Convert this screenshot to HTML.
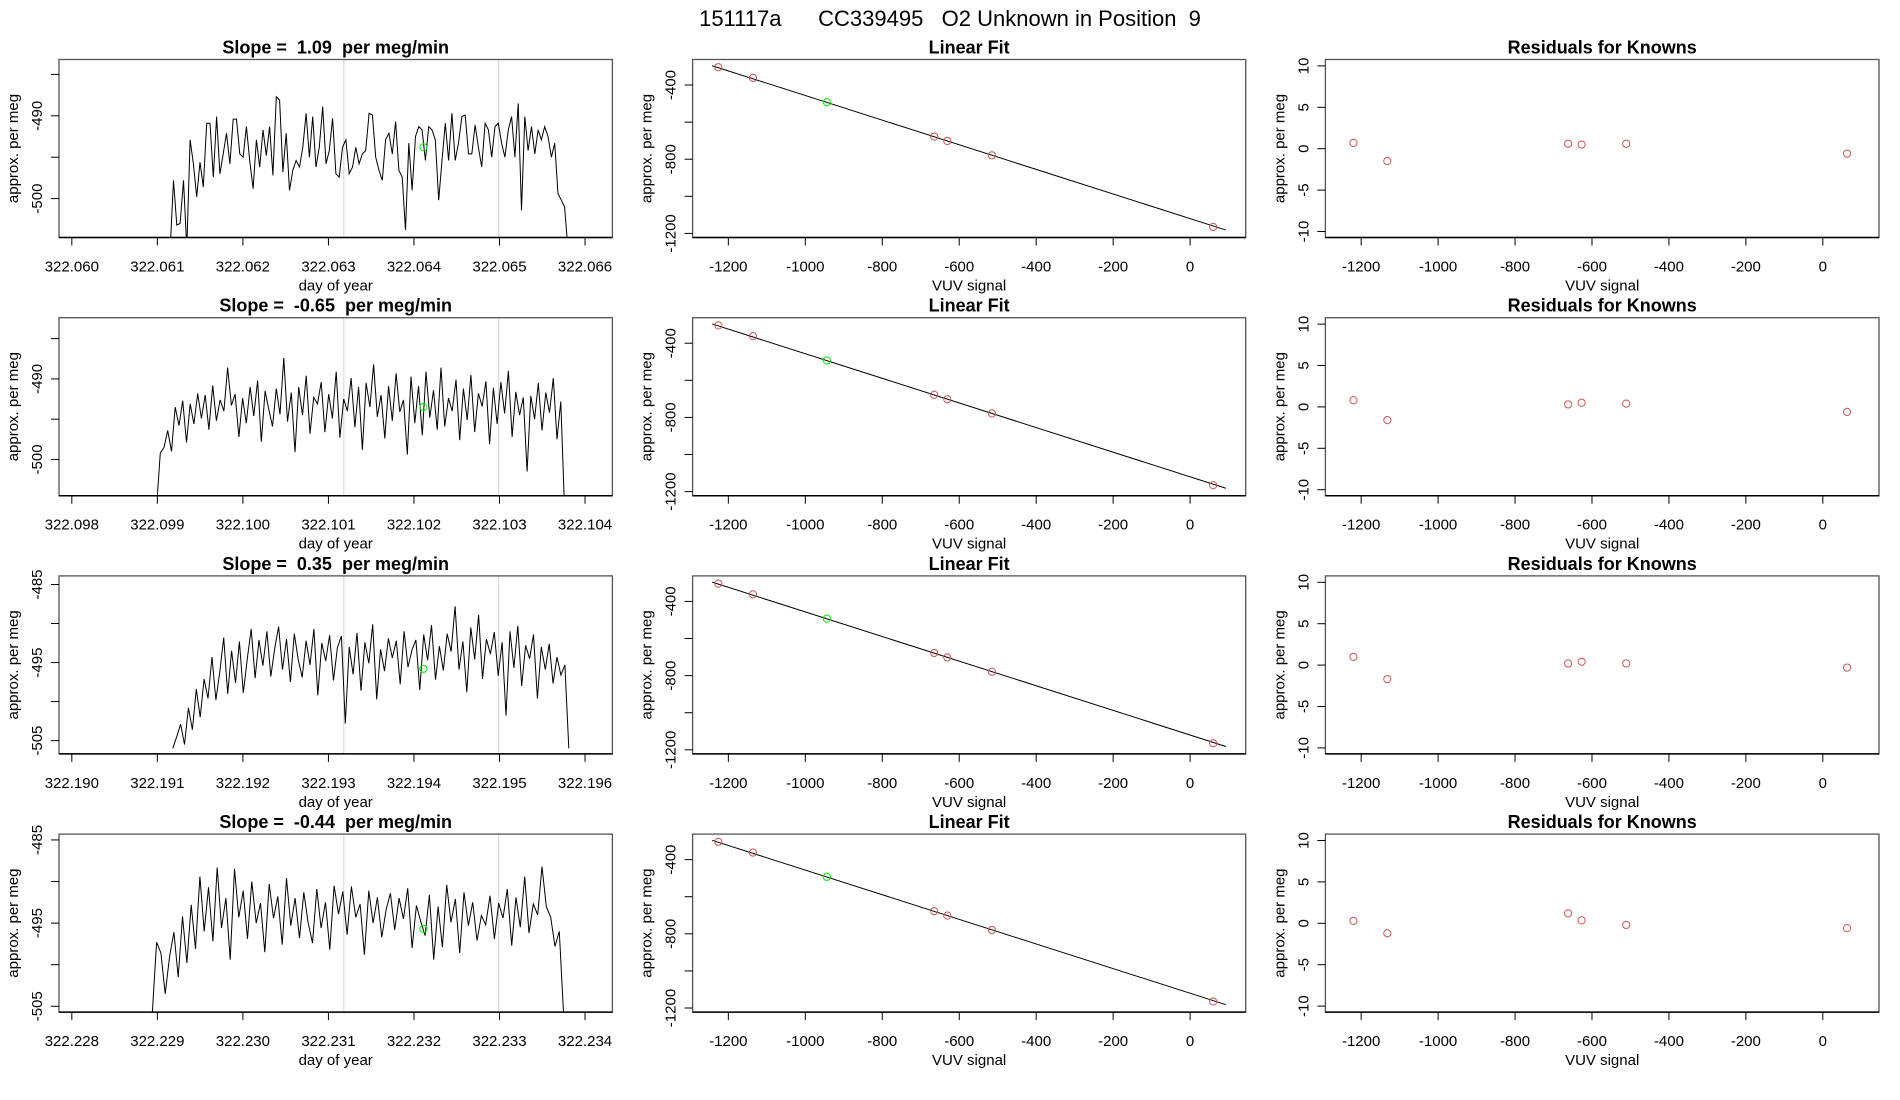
<!DOCTYPE html>
<html><head><meta charset="utf-8"><style>
html,body{margin:0;padding:0;background:#fff;}
svg{display:block;font-family:"Liberation Sans",sans-serif;}
svg text{white-space:pre;}
</style></head><body>
<svg id="chart" width="1900" height="1100">
<text x="950" y="26" text-anchor="middle" font-size="22" xml:space="preserve">151117a      CC339495   O2 Unknown in Position  9</text>
</svg>
<script>
// ---- data ----
const rowSlopes = ["1.09", "-0.65", "0.35", "-0.44"];
const tStarts = [322.06115, 322.09899, 322.19118, 322.22894];
const tEnds = [322.06580, 322.10376, 322.19581, 322.23375];
const xTickStarts = [322.060, 322.098, 322.190, 322.228];
const markerTimes = [[322.06318, 322.06499], [322.10118, 322.10299], [322.19318, 322.19499], [322.23118, 322.23299]];
const yLimTop = [-483.2, -482.4, -483.9, -484.3];
const yLimBottom = [-504.7, -504.5, -506.7, -505.7];
const yTickLabels = [[-490, -500], [-490, -500], [-485, -495, -505], [-485, -495, -505]];
const unknownTimes = [322.06411, 322.10211, 322.19411, 322.23211];
const unknownValues = [-493.8, -493.5, -495.8, -495.7];
const series1 = [-506,-497.8,-503.2,-503.0,-497.8,-506,-492.9,-495.8,-499.8,-495.6,-498.6,-490.9,-490.9,-497.4,-490.1,-497.0,-494.6,-492.1,-495.8,-490.4,-490.4,-494.6,-495.0,-491.3,-495.4,-498.8,-492.9,-496.2,-491.7,-494.8,-491.3,-497.2,-487.7,-488.1,-496.8,-492.1,-499.0,-496.6,-495.4,-496.2,-493.8,-489.7,-495.0,-490.1,-496.2,-493.8,-488.9,-495.8,-494.2,-490.3,-497.0,-497.4,-493.8,-492.9,-497.0,-496.2,-493.8,-495.8,-494.6,-494.2,-489.7,-489.9,-495.0,-496.6,-497.8,-492.9,-492.1,-494.6,-490.7,-496.6,-497.4,-503.8,-493.3,-499.0,-492.5,-491.3,-491.7,-495.4,-491.3,-491.7,-492.9,-500.2,-495.4,-490.9,-495.4,-489.7,-495.4,-493.3,-490.1,-489.9,-494.6,-494.6,-491.1,-493.8,-496.2,-490.9,-491.7,-495.0,-491.3,-490.9,-493.3,-495.0,-491.7,-490.1,-495.0,-488.5,-501.4,-490.1,-494.2,-491.3,-494.6,-491.7,-492.9,-491.3,-492.5,-495.0,-493.3,-499.4,-500.2,-501.0,-506];
const series2 = [-506,-499.2,-498.5,-496.4,-499.0,-493.5,-495.8,-492.7,-497.9,-493.1,-495.6,-491.8,-494.9,-492.0,-496.3,-490.8,-495.2,-492.6,-494.0,-488.6,-493.3,-491.9,-497.2,-492.4,-495.5,-491.0,-494.6,-490.2,-497.8,-491.5,-493.8,-495.9,-491.2,-494.4,-487.4,-495.3,-491.7,-499.1,-491.0,-494.5,-489.6,-496.8,-492.3,-493.1,-490.4,-496.6,-491.9,-494.9,-489.1,-497.3,-492.5,-494.0,-489.9,-496.0,-491.0,-498.8,-490.5,-493.5,-488.2,-494.7,-492.0,-497.4,-490.9,-495.2,-489.3,-494.1,-492.6,-499.4,-489.7,-495.5,-490.9,-497.0,-489.1,-494.8,-491.4,-496.3,-488.6,-495.9,-492.4,-494.0,-490.1,-497.6,-491.2,-495.1,-489.5,-496.6,-491.8,-493.4,-490.3,-498.1,-491.1,-495.6,-490.4,-494.3,-489.0,-497.2,-491.6,-494.5,-492.3,-501.5,-492.1,-495.0,-490.5,-496.4,-491.7,-494.2,-489.9,-497.5,-492.8,-506];
const series3 = [-506,-504.5,-502.9,-505.5,-500.8,-503.6,-498.4,-502.0,-497.1,-499.6,-494.3,-499.8,-496.2,-491.8,-499.0,-493.5,-497.6,-492.3,-498.9,-494.5,-490.7,-497.0,-492.1,-495.4,-491.0,-496.8,-493.2,-490.4,-495.9,-492.0,-497.5,-491.3,-494.6,-496.9,-492.2,-495.3,-490.7,-499.2,-492.5,-494.8,-491.5,-497.3,-493.1,-491.6,-502.8,-493.0,-496.5,-491.2,-498.6,-492.4,-495.1,-490.1,-499.7,-493.3,-496.1,-491.9,-494.4,-492.2,-497.8,-491.0,-495.6,-493.4,-492.1,-498.5,-491.4,-494.7,-490.2,-497.2,-492.9,-496.0,-491.3,-493.6,-487.8,-495.9,-492.3,-498.8,-490.5,-494.6,-488.9,-497.1,-492.0,-493.9,-491.1,-496.7,-492.4,-501.8,-491.0,-495.7,-490.3,-498.0,-492.8,-494.5,-491.4,-499.6,-493.0,-495.9,-492.6,-497.7,-494.3,-496.6,-495.3,-506];
const series4 = [-506,-497.3,-498.6,-503.5,-499.0,-496.1,-501.5,-494.2,-499.8,-492.8,-498.1,-489.4,-496.0,-490.7,-497.2,-488.3,-495.6,-492.0,-499.4,-488.5,-494.3,-491.1,-496.9,-490.0,-495.0,-492.6,-498.5,-490.3,-494.4,-491.8,-497.6,-489.6,-495.3,-492.0,-496.8,-491.3,-494.9,-497.4,-490.9,-495.6,-492.5,-498.2,-490.5,-493.9,-491.2,-496.4,-490.6,-494.3,-492.7,-498.8,-491.1,-495.0,-491.9,-496.7,-493.4,-491.4,-495.8,-492.0,-494.5,-490.8,-498.0,-492.9,-494.8,-496.5,-491.6,-499.4,-493.0,-497.9,-490.4,-494.9,-492.1,-498.6,-491.3,-495.3,-492.5,-497.1,-494.1,-495.2,-491.7,-496.9,-492.6,-494.4,-490.9,-497.7,-491.9,-495.5,-489.4,-496.2,-492.7,-494.0,-488.2,-493.0,-494.3,-497.8,-496.0,-506];
const allSeries = [series1, series2, series3, series4];
// linear fit data (shared calibration)
const vuvKnown = [-1226, -1136, -665, -631, -515, 60];
const megKnown = [-304, -362, -678, -702, -779, -1165];
const vuvUnknown = -944;
const megUnknown = -493;
const fitX = [-1242, 93];
const fitY = [-296, -1182];
const fitXTicks = [-1200, -1000, -800, -600, -400, -200, 0];
const fitYTicks = [-400, -600, -800, -1000, -1200];
const fitYLabels = [-400, -800, -1200];
const residX = [-1220, -1132, -662, -627, -511, 63];
const residRows = [
  [0.7, -1.5, 0.6, 0.5, 0.6, -0.6],
  [0.8, -1.6, 0.3, 0.5, 0.4, -0.6],
  [1.0, -1.7, 0.2, 0.4, 0.2, -0.3],
  [0.3, -1.2, 1.2, 0.35, -0.2, -0.58]
];
const residTicks = [10, 5, 0, -5, -10];

// ---- drawing ----
const svg = document.getElementById('chart');
const NS = 'http://www.w3.org/2000/svg';
function mk(tag, attrs, parent) {
  const e = document.createElementNS(NS, tag);
  for (const k in attrs) e.setAttribute(k, attrs[k]);
  (parent || svg).appendChild(e);
  return e;
}
const colLeft = [59, 692.6, 1325.4];
const colRight = [612.4, 1245.7, 1879];
const rowTop0 = 59.5, rowStep = 258.2, boxH = 178;

function frame(g, L, R, T, B, title, xlab) {
  const b = mk('rect', {x: L, y: T, width: R - L, height: B - T, fill: 'none', stroke: '#555', 'stroke-width': 1.3}, g);
  
  
  const bl = mk('line', {x1: L, x2: R, y1: B, y2: B, stroke: '#000', 'stroke-width': 1.5}, g);
  
  
  const t = mk('text', {x: (L + R) / 2, y: T - 6, 'text-anchor': 'middle', 'font-size': 18, 'font-weight': 'bold'}, g);
  t.textContent = title;
  
  
  const xl = mk('text', {x: (L + R) / 2, y: B + 53, 'text-anchor': 'middle', 'font-size': 15}, g);
  xl.textContent = xlab;
  
  
  const yl = mk('text', {transform: 'translate(' + (L - 41) + ',' + (T + B) / 2 + ') rotate(-90)', 'text-anchor': 'middle', 'font-size': 15}, g);
  yl.textContent = 'approx. per meg';
  
  
}
function xtick(g, x, B, label) {
  const l = mk('line', {x1: x, x2: x, y1: B, y2: B + 8, stroke: '#000', 'stroke-width': 1}, g);
  
  
  const t = mk('text', {x: x, y: B + 34, 'text-anchor': 'middle', 'font-size': 15}, g);
  t.textContent = label;
  
  
}
function ytick(g, y, L, label) {
  const l = mk('line', {x1: L - 8, x2: L, y1: y, y2: y, stroke: '#000', 'stroke-width': 1}, g);
  
  
  if (label !== null) {
    const t = mk('text', {transform: 'translate(' + (L - 17) + ',' + y + ') rotate(-90)', 'text-anchor': 'middle', 'font-size': 15}, g);
    t.textContent = label;
    
    
  }
}
function circle(g, x, y, color, name) {
  const c = mk('circle', {cx: x, cy: y, r: 3.6, fill: 'none', stroke: color, 'stroke-width': 1}, g);
  
  
}

const defs = mk('defs', {});
for (let r = 0; r < 4; r++) {
  const T = rowTop0 + r * rowStep, B = T + boxH;
  // ---- time series panel ----
  {
    const L = colLeft[0], R = colRight[0];
    const g = mk('g', {});
    
    
    const x0 = xTickStarts[r] - 0.00015, x1 = xTickStarts[r] + 0.00632;
    const sx = v => L + (v - x0) / (x1 - x0) * (R - L);
    const sy = v => T + (yLimTop[r] - v) / (yLimTop[r] - yLimBottom[r]) * boxH;
    const cp = mk('clipPath', {id: 'clip' + r}, defs);
    mk('rect', {x: L, y: T, width: R - L, height: boxH}, cp);
    markerTimes[r].forEach(t => {
      const l = mk('line', {x1: sx(t), x2: sx(t), y1: T, y2: B, stroke: '#d3d3d3', 'stroke-width': 1}, g);
      
      
    });
    const s = allSeries[r], n = s.length;
    let d = '';
    s.forEach((v, i) => {
      const t = tStarts[r] + (tEnds[r] - tStarts[r]) * i / (n - 1);
      d += (i ? 'L' : 'M') + sx(t).toFixed(1) + ' ' + sy(v).toFixed(1);
    });
    const p = mk('path', {d: d, fill: 'none', stroke: '#000', 'stroke-width': 1, 'clip-path': 'url(#clip' + r + ')'}, g);
    
    
    circle(g, sx(unknownTimes[r]), sy(unknownValues[r]), '#00ee00', 'unknown-point');
    frame(g, L, R, T, B, 'Slope =  ' + rowSlopes[r] + '  per meg/min', 'day of year');
    for (let k = 0; k <= 6; k++) {
      const v = xTickStarts[r] + k * 0.001;
      xtick(g, sx(v), B, v.toFixed(3));
    }
    const lo = Math.ceil(yLimBottom[r] / 5) * 5;
    for (let v = lo; v <= yLimTop[r]; v += 5) {
      ytick(g, sy(v), L, yTickLabels[r].indexOf(v) >= 0 ? String(v) : null);
    }
  }
  // ---- linear fit panel ----
  {
    const L = colLeft[1], R = colRight[1];
    const g = mk('g', {});
    
    
    const sx = v => 1190.1 + v * 0.3848;
    const sy = v => T + (-262.5 - v) / (-262.5 + 1222) * boxH;
    const l = mk('line', {x1: sx(fitX[0]), y1: sy(fitY[0]), x2: sx(fitX[1]), y2: sy(fitY[1]), stroke: '#000', 'stroke-width': 1}, g);
    
    
    vuvKnown.forEach((v, i) => circle(g, sx(v), sy(megKnown[i]), '#cd5555', 'known-point'));
    circle(g, sx(vuvUnknown), sy(megUnknown), '#00ee00', 'unknown-point');
    frame(g, L, R, T, B, 'Linear Fit', 'VUV signal');
    fitXTicks.forEach(v => xtick(g, sx(v), B, String(v)));
    fitYTicks.forEach(v => ytick(g, sy(v), L, fitYLabels.indexOf(v) >= 0 ? String(v) : null));
  }
  // ---- residual panel ----
  {
    const L = colLeft[2], R = colRight[2];
    const g = mk('g', {});
    
    
    const sx = v => 1822.8 + v * 0.3847;
    const sy = v => T + 89.2 - v * 8.28;
    residX.forEach((v, i) => circle(g, sx(v), sy(residRows[r][i]), '#cd5555', 'residual-point'));
    frame(g, L, R, T, B, 'Residuals for Knowns', 'VUV signal');
    fitXTicks.forEach(v => xtick(g, sx(v), B, String(v)));
    residTicks.forEach(v => ytick(g, sy(v), L, String(v)));
  }
}
</script>
</body></html>
